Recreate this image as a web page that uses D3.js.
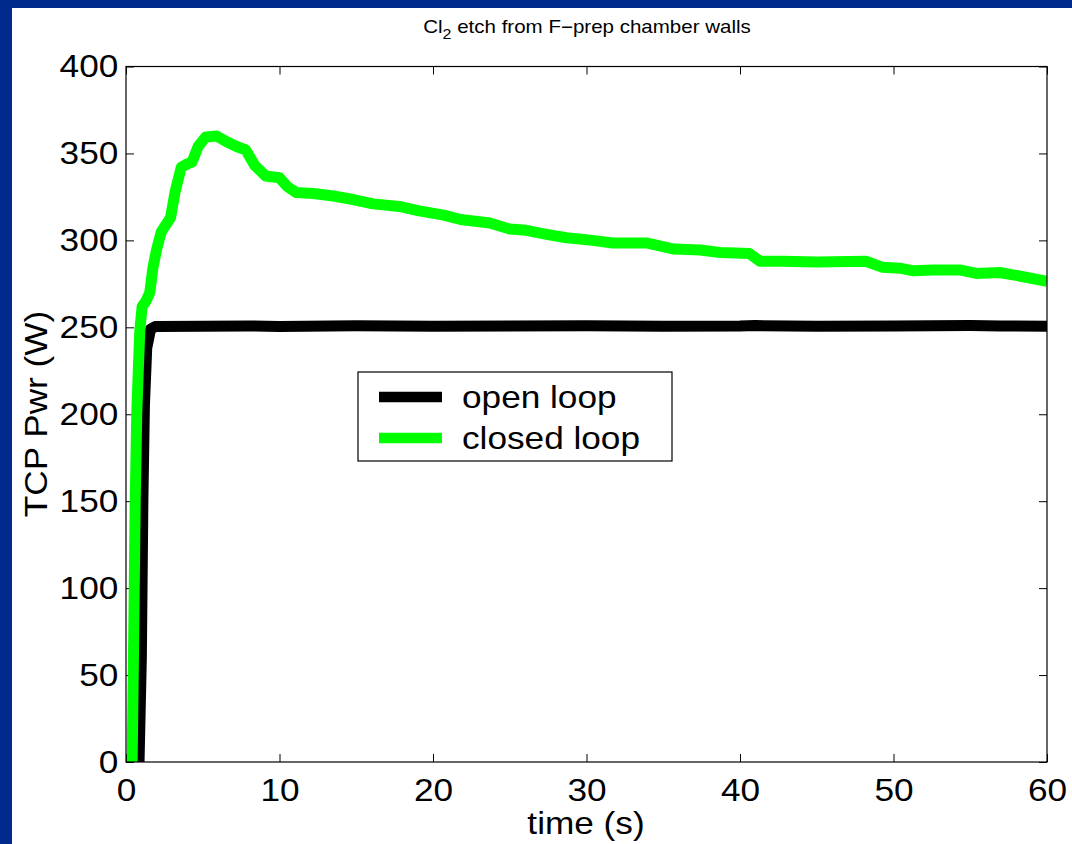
<!DOCTYPE html>
<html>
<head>
<meta charset="utf-8">
<script src="https://cdn.jsdelivr.net/npm/d3@7"></script>
<style>
  html, body { margin: 0; padding: 0; background: #00298C; }
  svg { display: block; }
  text { font-family: "Liberation Sans", Arial, Helvetica, sans-serif; fill: #000; }
</style>
</head>
<body>
<svg id="chart" width="1072" height="844"></svg>
<script>
// ---- data ----
const titleText = "etch from F\u2212prep chamber walls";
const xLabel = "time (s)";
const yLabel = "TCP Pwr (W)";
const seriesNames = ["open loop", "closed loop"];
const seriesColors = ["#000000", "#00FF00"];
const xTicks = [0, 10, 20, 30, 40, 50, 60];
const yTicks = [0, 50, 100, 150, 200, 250, 300, 350, 400];

const openTime  = [0.85, 1.0, 1.1, 1.2, 1.35, 1.6, 1.9, 5, 8, 10, 15, 20, 25, 30, 35, 40, 41, 45, 50, 55, 57, 60];
const openPower = [0, 60, 150, 205, 238, 249, 250.4, 250.6, 250.8, 250.5, 250.9, 250.6, 250.7, 250.9, 250.6, 250.7, 251.0, 250.6, 250.7, 251.0, 250.8, 250.6];

const closedTime  = [0.4, 0.5, 0.6, 0.7, 0.8, 0.9, 1.05, 1.3, 1.55, 1.75, 2.0, 2.3, 2.6, 2.9, 3.2, 3.6, 4.0, 4.3, 4.7, 5.2, 5.9, 6.5, 7.2, 7.8, 8.4, 9.1, 10.0, 10.5, 11.1, 12.2, 13.5, 14.8, 16.1, 17.8, 19.1, 20.7, 21.8, 23.7, 25.0, 25.9, 27.4, 28.7, 30.4, 31.7, 33.9, 35.7, 37.4, 38.7, 40.6, 41.3, 42.8, 45.0, 48.2, 49.3, 50.4, 51.3, 52.6, 54.3, 55.4, 56.9, 58.2, 60];
const closedPower = [0, 70, 150, 200, 225, 248, 262, 265, 270, 284, 295, 305, 309, 313, 328, 342, 344, 345, 354, 359.5, 360, 357, 354, 352, 343, 337, 336, 331, 327.5, 327, 325.5, 323.5, 321, 319.5, 317, 314.5, 312, 310, 306.5, 306, 303.5, 301.5, 300, 298.5, 298.5, 295, 294.5, 293, 292.5, 288, 288, 287.5, 288, 284.5, 284, 282.5, 283, 283, 281, 281.5, 279.5, 276.5];

// ---- layout ----
const svg = d3.select("#chart");
svg.append("rect").attr("x", 12).attr("y", 8).attr("width", 1060).attr("height", 836).attr("fill", "#fff");

const L = 126, R = 1047, T = 66.5, B = 762;
const x = d3.scaleLinear().domain([0, 60]).range([L, R]);
const y = d3.scaleLinear().domain([0, 400]).range([B, T]);
const SX = 1.1;

// title
const title = svg.append("text").attr("transform", "translate(587,33) scale(1.14,1)").attr("text-anchor", "middle")
  .style("font-size", "18px");
title.append("tspan").text("Cl");
title.append("tspan").attr("dy", 6).style("font-size", "14px").text("2");
title.append("tspan").attr("dy", -6).text(" " + titleText);

// axes
function styleAxis(g) {
  g.select(".domain").remove();
  g.selectAll("line").attr("stroke", "#000").attr("stroke-width", 1);
  g.selectAll("text").style("font-size", "32px").attr("fill", "#000");
}
const fmt = d3.format("d");
svg.append("g").attr("transform", `translate(0,${B})`)
  .call(d3.axisBottom(x).tickValues(xTicks).tickFormat(fmt).tickSize(-8).tickPadding(16))
  .call(styleAxis)
  .call(g => g.selectAll("text").attr("transform", `scale(${SX},1)`));
svg.append("g").attr("transform", `translate(0,${T})`)
  .call(d3.axisTop(x).tickValues(xTicks).tickFormat("").tickSize(-8)).call(styleAxis);
svg.append("g").attr("transform", `translate(${L},0)`)
  .call(d3.axisLeft(y).tickValues(yTicks).tickFormat(fmt).tickSize(-8).tickPadding(7))
  .call(styleAxis)
  .call(g => g.selectAll("text").attr("transform", `scale(${SX},1)`));
svg.append("g").attr("transform", `translate(${R},0)`)
  .call(d3.axisRight(y).tickValues(yTicks).tickFormat("").tickSize(-8)).call(styleAxis);

// clip
svg.append("clipPath").attr("id", "clip").append("rect")
  .attr("x", L).attr("y", T).attr("width", R - L).attr("height", B - T);

const line = d3.line().x(d => x(d[0])).y(d => y(d[1]));
const plot = svg.append("g").attr("clip-path", "url(#clip)");
const seriesData = [
  d3.zip(openTime, openPower),
  d3.zip(closedTime, closedPower)
];
seriesData.forEach((pts, i) => {
  plot.append("path").datum(pts).attr("d", line)
    .attr("fill", "none").attr("stroke", seriesColors[i]).attr("stroke-width", 11)
    .attr("stroke-linejoin", "round").attr("stroke-linecap", "butt");
});

// frame
svg.append("rect").attr("x", L).attr("y", T).attr("width", R - L).attr("height", B - T)
  .attr("fill", "none").attr("stroke", "#000").attr("stroke-width", 1.2);

// axis labels
svg.append("text").attr("transform", `translate(586,834) scale(${SX},1)`).attr("text-anchor", "middle")
  .style("font-size", "32px").text(xLabel);
svg.append("text").attr("transform", `translate(47,414) rotate(-90) scale(${SX},1)`).attr("text-anchor", "middle")
  .style("font-size", "32px").text(yLabel);

// legend
const lg = svg.append("g");
lg.append("rect").attr("x", 358).attr("y", 372).attr("width", 314).attr("height", 89)
  .attr("fill", "#fff").attr("stroke", "#000").attr("stroke-width", 1.2);
seriesNames.forEach((name, i) => {
  const ly = 397 + i * 41;
  lg.append("line").attr("x1", 379).attr("x2", 442).attr("y1", ly).attr("y2", ly)
    .attr("stroke", seriesColors[i]).attr("stroke-width", 10.5);
  lg.append("text").attr("transform", `translate(462,${ly + 11}) scale(${SX},1)`)
    .style("font-size", "32px").text(name);
});
</script>
</body>
</html>
